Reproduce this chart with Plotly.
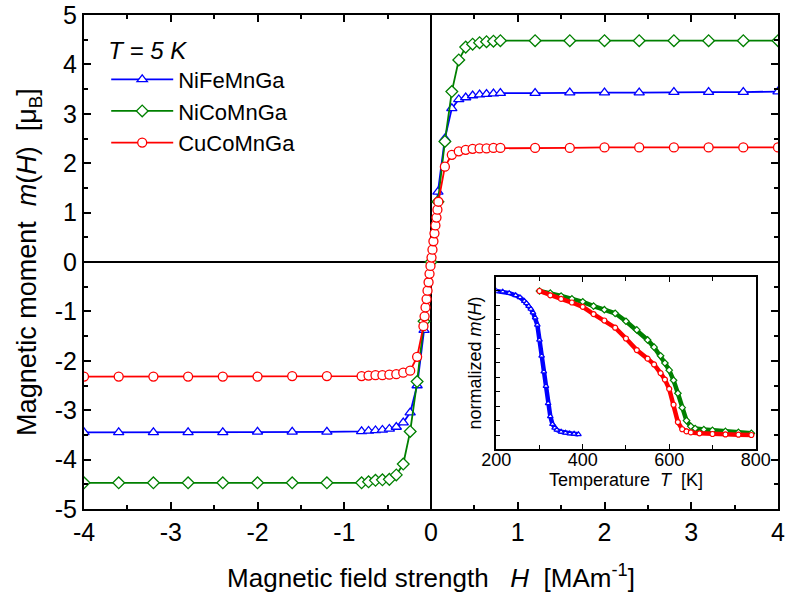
import plotly.graph_objects as go

# ---------------- main panel data (H in MA/m, m in muB) ----------------
fe_H = [-4.0, -3.6, -3.2, -2.8, -2.4, -2.0, -1.6, -1.2, -0.8, -0.72, -0.64, -0.56, -0.48, -0.40, -0.32, -0.24, -0.16, -0.08,
        0.08, 0.16, 0.24, 0.32, 0.40, 0.48, 0.56, 0.64, 0.72, 0.80, 1.2, 1.6, 2.0, 2.4, 2.8, 3.2, 3.6, 4.0]
fe_m = [-3.45, -3.45, -3.45, -3.45, -3.45, -3.44, -3.44, -3.44, -3.43, -3.42, -3.41, -3.40, -3.38, -3.34, -3.25, -3.05, -2.50, -1.38,
        1.42, 2.50, 3.11, 3.29, 3.33, 3.37, 3.39, 3.40, 3.41, 3.42, 3.42, 3.43, 3.43, 3.43, 3.44, 3.44, 3.44, 3.45]

co_H = [-4.0, -3.6, -3.2, -2.8, -2.4, -2.0, -1.6, -1.2, -0.8, -0.72, -0.64, -0.56, -0.48, -0.40, -0.32, -0.24, -0.16, -0.08, 0.0,
        0.08, 0.16, 0.24, 0.32, 0.40, 0.48, 0.56, 0.64, 0.72, 0.80, 1.2, 1.6, 2.0, 2.4, 2.8, 3.2, 3.6, 4.0]
co_m = [-4.47, -4.47, -4.47, -4.47, -4.47, -4.47, -4.47, -4.47, -4.47, -4.45, -4.42, -4.41, -4.40, -4.31, -4.09, -3.43, -2.42, -1.20, 0.0,
        1.22, 2.44, 3.45, 4.09, 4.35, 4.41, 4.44, 4.46, 4.47, 4.48, 4.48, 4.48, 4.48, 4.48, 4.48, 4.48, 4.48, 4.48]

cu_H = [-4.0, -3.6, -3.2, -2.8, -2.4, -2.0, -1.6, -1.2, -0.8, -0.72, -0.64, -0.56, -0.48, -0.40, -0.32, -0.24, -0.16,
        -0.087, -0.074, -0.063, -0.051, -0.040, -0.028, -0.017, -0.006, 0.006, 0.017, 0.028, 0.040, 0.051, 0.063, 0.074, 0.085,
        0.16, 0.24, 0.32, 0.40, 0.48, 0.56, 0.64, 0.72, 0.80, 1.2, 1.6, 2.0, 2.4, 2.8, 3.2, 3.6, 4.0]
cu_m = [-2.32, -2.32, -2.32, -2.32, -2.32, -2.32, -2.31, -2.31, -2.31, -2.30, -2.29, -2.29, -2.28, -2.27, -2.24, -2.20, -1.92,
        -1.30, -1.10, -0.92, -0.75, -0.58, -0.41, -0.24, -0.08, 0.09, 0.25, 0.42, 0.58, 0.74, 0.90, 1.06, 1.22,
        1.93, 2.17, 2.24, 2.27, 2.29, 2.30, 2.30, 2.31, 2.31, 2.31, 2.31, 2.32, 2.32, 2.32, 2.32, 2.32, 2.32]

# ---------------- inset data (T in K, normalized m) ----------------
fe_T = [200, 215, 230, 245, 255, 265, 270, 275, 280, 285, 290, 295, 300, 305, 310, 315, 320, 325, 330, 335, 340, 350, 360, 370, 380, 390]
fe_v = [1.00, 0.995, 0.985, 0.97, 0.955, 0.93, 0.915, 0.895, 0.875, 0.85, 0.815, 0.765, 0.66, 0.55, 0.44, 0.34, 0.22, 0.13, 0.075, 0.05, 0.035, 0.022, 0.015, 0.01, 0.008, 0.005]

co_T = [300, 325, 350, 375, 400, 425, 450, 475, 500, 525, 550, 565, 580, 590, 600, 610, 620, 630, 640, 650, 660, 680, 700, 730, 760, 790]
co_v = [1.0, 0.985, 0.965, 0.945, 0.925, 0.895, 0.87, 0.845, 0.79, 0.73, 0.66, 0.61, 0.55, 0.50, 0.45, 0.38, 0.29, 0.19, 0.10, 0.06, 0.045, 0.038, 0.033, 0.025, 0.018, 0.012]

cu_T = [300, 325, 350, 375, 400, 425, 450, 475, 500, 525, 550, 565, 580, 590, 600, 610, 620, 630, 640, 650, 670, 700, 730, 760, 790]
cu_v = [1.0, 0.97, 0.945, 0.92, 0.89, 0.84, 0.795, 0.745, 0.67, 0.59, 0.53, 0.49, 0.43, 0.385, 0.32, 0.21, 0.09, 0.04, 0.025, 0.018, 0.012, 0.007, 0.004, 0.002, 0.0]

# ---------------- tick labels ----------------
x_ticks = [-4, -3, -2, -1, 0, 1, 2, 3, 4]
x_ticktext = ["-4", "-3", "-2", "-1", "0", "1", "2", "3", "4"]
y_ticks = [-5, -4, -3, -2, -1, 0, 1, 2, 3, 4, 5]
y_ticktext = ["-5", "-4", "-3", "-2", "-1", "0", "1", "2", "3", "4", "5"]
inset_x_ticks = [200, 400, 600, 800]
inset_x_ticktext = ["200", "400", "600", "800"]

names = ["NiFeMnGa", "NiCoMnGa", "CuCoMnGa"]
colors = ["#0000ff", "#008000", "#ff0000"]
symbols = ["triangle-up", "diamond", "circle"]

FONT = "Liberation Sans, Arial, sans-serif"

fig = go.Figure()

main_sets = [(fe_H, fe_m), (co_H, co_m), (cu_H, cu_m)]
for (hx, my), nm, c, s in zip(main_sets, names, colors, symbols):
    fig.add_trace(go.Scatter(
        x=hx, y=my, name=nm, mode="lines+markers",
        line=dict(color=c, width=1.8),
        marker=dict(symbol=s, size=9, color="white", line=dict(color=c, width=1.3)),
        xaxis="x", yaxis="y"))

inset_sets = [(fe_T, fe_v), (co_T, co_v), (cu_T, cu_v)]
inset_sym = ["triangle-up", "diamond", "circle"]
for (tx, vy), c, s in zip(inset_sets, colors, inset_sym):
    fig.add_trace(go.Scatter(
        x=tx, y=vy, mode="lines+markers", showlegend=False,
        line=dict(color=c, width=4.5),
        marker=dict(symbol=s, size=5, color="white", line=dict(color=c, width=1.2)),
        xaxis="x2", yaxis="y2"))

axis_common = dict(showline=True, linecolor="black", linewidth=2, mirror="ticks",
                   ticks="inside", tickcolor="black", tickwidth=1.5, showgrid=False,
                   automargin=False, ticklabeloverflow="allow")

fig.update_layout(
    width=786, height=594,
    margin=dict(l=84, r=8, t=15, b=85),
    paper_bgcolor="white", plot_bgcolor="white",
    font=dict(family=FONT, size=24, color="black"),
    showlegend=True,
    legend=dict(
        x=0.032, y=0.975, xanchor="left", yanchor="top",
        bgcolor="rgba(0,0,0,0)", borderwidth=0,
        font=dict(size=22, family=FONT),
        title=dict(text="<i>T = 5 K</i>", font=dict(size=24, family=FONT)),
        itemwidth=62, tracegroupgap=0,
    ),
    xaxis=dict(
        domain=[0, 1], range=[-4, 4], anchor="y",
        tickvals=x_ticks, ticktext=x_ticktext, ticklen=7,
        minor=dict(dtick=0.5, ticklen=4, ticks="inside", tickcolor="black", tickwidth=1.5),
        zeroline=True, zerolinecolor="black", zerolinewidth=2,
        title=dict(text="Magnetic field strength \u00a0 <i>H</i> \u00a0[MAm<sup>-1</sup>]",
                   font=dict(size=26), standoff=24),
        tickfont=dict(size=25),
        **axis_common),
    yaxis=dict(
        domain=[0, 1], range=[-5, 5], anchor="x",
        tickvals=y_ticks, ticktext=y_ticktext, ticklen=7,
        minor=dict(dtick=0.5, ticklen=4, ticks="inside", tickcolor="black", tickwidth=1.5),
        zeroline=True, zerolinecolor="black", zerolinewidth=2,
        title=dict(text="Magnetic moment \u00a0<i>m</i>(<i>H</i>) \u00a0[\u03bc<sub>B</sub>]",
                   font=dict(size=27), standoff=10),
        tickfont=dict(size=25),
        **axis_common),
    xaxis2=dict(
        domain=[0.5940, 0.9679], range=[200, 800], anchor="y2",
        tickvals=inset_x_ticks, ticktext=inset_x_ticktext, ticklen=5,
        minor=dict(dtick=100, ticklen=4, ticks="inside", tickcolor="black", tickwidth=1.2),
        zeroline=False, automargin=False, ticklabelstandoff=-7, ticklabeloverflow="allow",
        title=dict(text="Temperature \u00a0<i>T</i> \u00a0[K]", font=dict(size=18), standoff=0),
        tickfont=dict(size=18),
        showline=True, linecolor="black", linewidth=2, mirror="ticks",
        ticks="inside", tickcolor="black", tickwidth=1.2, showgrid=False),
    yaxis2=dict(
        domain=[0.1215, 0.4696], range=[-0.097, 1.097], anchor="x2",
        dtick=0.1, tick0=0, ticklen=4, showticklabels=False,
        zeroline=False, automargin=False,
        title=dict(text="normalized <i>m</i>(<i>H</i>)", font=dict(size=18), standoff=8),
        showline=True, linecolor="black", linewidth=2, mirror=True,
        ticks="inside", tickcolor="black", tickwidth=1.2, showgrid=False),
    yaxis3=dict(
        overlaying="y2", side="right", anchor="x2", range=[-0.097, 1.097],
        tick0=0, dtick=0.1715, ticklen=5, showticklabels=False, ticks="inside",
        tickcolor="black", tickwidth=1.2, showline=False, showgrid=False, zeroline=False,
        automargin=False),
)

fig.write_html("out.html")
